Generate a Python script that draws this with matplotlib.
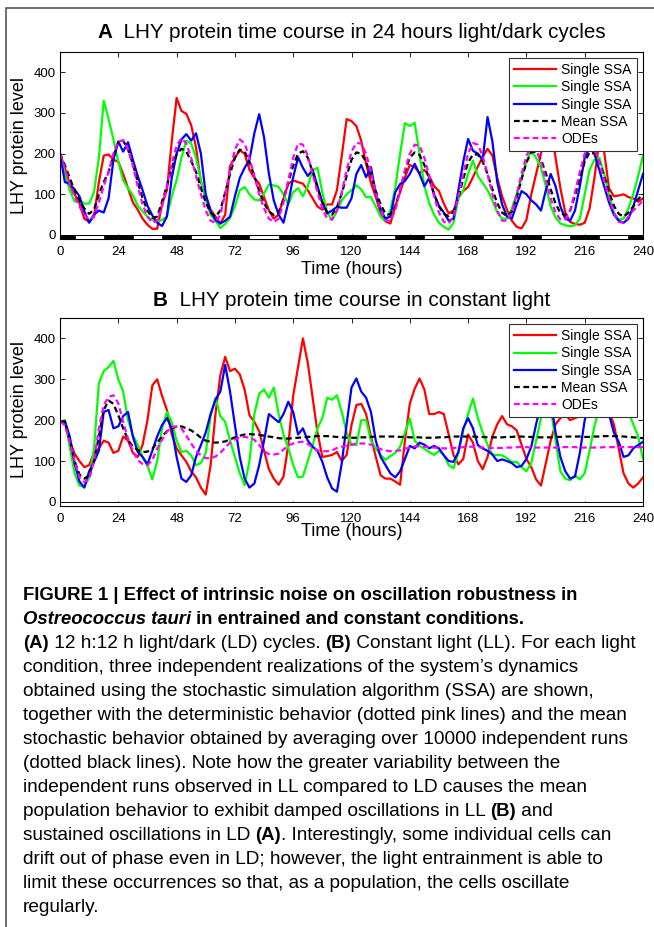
import matplotlib
matplotlib.use('Agg')
import matplotlib.pyplot as plt
from matplotlib.patches import Rectangle

# ---------------- data ----------------
hours = list(range(0, 241, 2))
xticks = list(range(0, 241, 24))
yticks = [0, 100, 200, 300, 400]
labels = ["Single SSA", "Single SSA", "Single SSA", "Mean SSA", "ODEs"]

dark_start = [0, 18, 42, 66, 90, 114, 138, 162, 186, 210, 234]
dark_end = [6, 30, 54, 78, 102, 126, 150, 174, 198, 222, 240]

A_red = [200, 165, 125, 100, 78, 40, 32, 45, 130, 195, 198, 185, 180, 150, 115, 80, 62, 40, 25, 15,
         15, 75, 110, 230, 337, 305, 298, 270, 215, 130, 95, 62, 45, 28, 50, 170, 190, 208, 200, 160,
         140, 126, 93, 60, 40, 50, 90, 126, 134, 130, 126, 110, 90, 70, 62, 75, 75, 110, 195, 285,
         280, 268, 232, 175, 128, 93, 53, 33, 28, 70, 105, 142, 172, 167, 152, 160, 145, 120, 108, 77,
         53, 60, 92, 108, 118, 142, 168, 192, 212, 195, 140, 95, 62, 35, 20, 16, 37, 100, 150, 200,
         255, 265, 190, 115, 55, 32, 27, 25, 30, 65, 140, 230, 205, 115, 95, 97, 100, 93, 90, 82, 90]
A_green = [200, 150, 110, 82, 85, 77, 77, 105, 190, 330, 285, 235, 180, 135, 115, 98, 72, 58, 45, 37,
           33, 37, 45, 95, 135, 190, 232, 225, 190, 135, 85, 50, 35, 17, 27, 42, 70, 110, 118, 100,
           87, 85, 102, 124, 122, 118, 100, 75, 105, 115, 95, 120, 160, 165, 105, 55, 37, 58, 85, 100,
           110, 122, 112, 93, 93, 70, 45, 33, 60, 115, 200, 275, 268, 276, 200, 120, 78, 50, 30, 20,
           13, 30, 90, 110, 150, 183, 145, 128, 110, 85, 55, 40, 40, 65, 100, 140, 180, 207, 190, 165,
           120, 70, 43, 28, 24, 21, 24, 40, 100, 160, 185, 190, 150, 100, 55, 38, 40, 65, 100, 145, 195]
A_blue = [200, 130, 126, 112, 95, 58, 30, 50, 60, 55, 90, 185, 230, 205, 228, 185, 145, 110, 72, 48,
          30, 22, 45, 140, 200, 235, 248, 232, 250, 200, 100, 58, 37, 28, 35, 45, 95, 140, 165, 185,
          250, 297, 240, 150, 85, 50, 30, 80, 142, 191, 165, 145, 160, 120, 80, 53, 60, 69, 67, 67,
          90, 150, 172, 142, 167, 102, 62, 40, 45, 105, 125, 133, 150, 175, 150, 120, 140, 100, 72, 55,
          35, 40, 110, 180, 236, 207, 200, 185, 290, 230, 130, 75, 45, 40, 75, 108, 100, 85, 75, 60,
          110, 150, 120, 70, 40, 35, 60, 120, 190, 215, 200, 160, 120, 80, 50, 35, 30, 40, 70, 110, 150]
A_mean = [200, 172, 140, 110, 85, 65, 52, 62, 100, 130, 155, 195, 228, 232, 210, 175, 130, 90, 60, 42,
          45, 82, 120, 165, 198, 212, 205, 182, 155, 115, 80, 55, 45, 60, 105, 150, 190, 210, 205, 180,
          145, 108, 78, 58, 49, 55, 88, 130, 170, 200, 206, 190, 155, 115, 80, 55, 50, 68, 102, 145,
          185, 203, 200, 180, 147, 108, 75, 52, 50, 70, 110, 155, 190, 203, 197, 172, 138, 100, 70, 52,
          46, 57, 92, 138, 178, 198, 198, 180, 150, 112, 78, 55, 46, 57, 92, 137, 178, 203, 205, 186,
          152, 112, 77, 54, 48, 60, 96, 140, 180, 203, 200, 180, 145, 106, 72, 52, 45, 55, 70, 88, 100]
A_ode = [200, 165, 125, 95, 70, 50, 38, 45, 80, 120, 155, 200, 230, 233, 210, 170, 120, 75, 45, 30,
         35, 70, 120, 175, 220, 238, 225, 190, 145, 100, 60, 35, 30, 50, 100, 160, 210, 235, 225, 190,
         145, 100, 65, 40, 32, 40, 80, 135, 190, 225, 222, 195, 150, 105, 65, 40, 38, 60, 105, 160,
         205, 226, 225, 200, 155, 105, 60, 35, 35, 60, 110, 160, 200, 222, 220, 190, 145, 95, 55, 32,
         28, 45, 95, 150, 200, 226, 222, 195, 150, 100, 60, 35, 35, 55, 100, 150, 195, 215, 210, 180,
         135, 90, 55, 38, 38, 60, 105, 155, 200, 215, 210, 180, 135, 90, 55, 32, 30, 45, 60, 72, 85]

B_red = [196, 195, 150, 118, 100, 85, 90, 120, 131, 150, 145, 120, 125, 160, 150, 120, 110, 140, 200, 285,
         300, 260, 225, 165, 131, 114, 98, 75, 60, 35, 18, 90, 215, 310, 355, 320, 326, 312, 275, 212,
         196, 173, 125, 80, 57, 42, 62, 140, 260, 330, 400, 340, 255, 170, 110, 112, 115, 122, 100, 115,
         188, 237, 240, 215, 160, 110, 65, 57, 57, 50, 42, 150, 240, 277, 302, 275, 215, 215, 220, 215,
         165, 115, 92, 105, 165, 145, 100, 80, 110, 160, 190, 210, 190, 185, 175, 140, 105, 85, 55, 40,
         95, 150, 190, 205, 215, 200, 205, 210, 215, 240, 250, 260, 240, 220, 190, 130, 70, 45, 35, 45, 60]
B_green = [196, 200, 135, 70, 40, 37, 60, 130, 290, 320, 330, 345, 300, 270, 200, 163, 140, 110, 88, 55,
           100, 180, 220, 196, 150, 122, 125, 114, 90, 95, 120, 210, 255, 210, 196, 150, 110, 70, 41, 100,
           215, 265, 275, 255, 280, 215, 165, 131, 90, 60, 62, 100, 139, 180, 205, 255, 250, 261, 220, 170,
           140, 139, 200, 200, 150, 131, 115, 103, 112, 120, 135, 170, 204, 150, 137, 130, 122, 115, 125, 115,
           90, 82, 120, 175, 215, 253, 205, 170, 140, 115, 115, 114, 107, 98, 98, 85, 75, 95, 150, 205,
           240, 230, 150, 75, 57, 53, 65, 55, 70, 125, 185, 230, 250, 260, 250, 240, 230, 220, 190, 160, 105]
B_blue = [196, 198, 160, 95, 50, 35, 75, 98, 125, 220, 225, 180, 185, 210, 220, 160, 122, 110, 92, 125,
          160, 188, 205, 180, 110, 57, 49, 65, 110, 139, 170, 215, 250, 270, 335, 270, 188, 110, 57, 35,
          45, 90, 150, 215, 205, 195, 215, 245, 220, 165, 180, 150, 135, 125, 98, 60, 33, 25, 95, 190,
          280, 302, 270, 255, 220, 150, 110, 90, 70, 60, 75, 105, 137, 131, 145, 140, 131, 137, 131, 114,
          100, 98, 122, 180, 205, 180, 139, 131, 125, 116, 100, 104, 100, 95, 85, 88, 105, 135, 190, 240,
          270, 250, 170, 110, 75, 57, 62, 120, 200, 240, 260, 270, 250, 215, 170, 147, 110, 114, 131, 139, 147]
B_mean = [196, 196, 150, 100, 67, 57, 65, 100, 160, 225, 248, 240, 212, 180, 152, 135, 127, 122, 123, 130,
          145, 160, 173, 180, 184, 185, 180, 175, 167, 157, 150, 147, 145, 146, 148, 153, 158, 162, 165, 166,
          165, 164, 162, 160, 158, 156, 155, 155, 156, 157, 158, 159, 160, 161, 161, 161, 160, 159, 158, 157,
          157, 157, 158, 158, 159, 160, 160, 160, 160, 160, 159, 159, 158, 158, 158, 157, 157, 157, 158, 158,
          159, 160, 160, 160, 160, 160, 159, 159, 158, 158, 158, 158, 159, 159, 160, 160, 159, 159, 158, 158,
          158, 158, 159, 159, 160, 160, 160, 160, 159, 159, 160, 160, 161, 161, 161, 161, 160, 159, 158, 157, 156]
B_ode = [196, 188, 147, 100, 60, 49, 55, 100, 180, 237, 257, 261, 241, 196, 155, 125, 102, 93, 90, 102,
         130, 152, 172, 183, 185, 180, 162, 143, 125, 114, 107, 107, 111, 120, 133, 145, 153, 158, 159, 157,
         152, 139, 124, 117, 116, 118, 128, 138, 143, 146, 147, 142, 133, 126, 124, 124, 126, 132, 135, 138,
         140, 143, 143, 143, 140, 135, 129, 126, 124, 125, 126, 130, 133, 136, 136, 135, 134, 133, 132, 131,
         131, 132, 133, 134, 135, 135, 134, 133, 132, 132, 132, 132, 133, 133, 134, 134, 134, 133, 133, 133,
         133, 133, 133, 134, 134, 134, 134, 133, 133, 133, 133, 133, 134, 134, 134, 134, 134, 134, 134, 134, 134]

# ---------------- figure ----------------
W, H = 654, 927
plt.rcParams['font.family'] = ['Liberation Sans', 'DejaVu Sans']
fig = plt.figure(figsize=(W / 100, H / 100), dpi=100)
fig.patch.set_facecolor('white')

colors = ['#ff0000', '#00ff00', '#0000ff', '#000000', '#ff00ff']
styles = ['-', '-', '-', '--', '--']

axA = fig.add_axes([60 / W, 1 - 239 / H, 583 / W, 187 / H])
axB = fig.add_axes([60 / W, 1 - 506 / H, 583 / W, 188 / H])


def setup(ax, series, dark):
    ax.set_xlim(0, 240)
    ax.set_ylim(-10, 450)
    ax.set_xticks(xticks)
    ax.set_yticks(yticks)
    ax.tick_params(direction='in', length=3.5, width=0.6, top=True, right=True,
                   labelsize=9.5, colors='black')
    ax.tick_params(axis='x', pad=5)
    ax.tick_params(axis='y', pad=3)
    for s in ax.spines.values():
        s.set_linewidth(0.8)
    handles = []
    for vals, c, ls, lab in zip(series, colors, styles, labels):
        if ls == '--':
            ln, = ax.plot(hours, vals, color=c, lw=1.6, dashes=(2.6, 1.6), label=lab, zorder=2)
        else:
            ln, = ax.plot(hours, vals, color=c, lw=1.6, label=lab, zorder=2)
        handles.append(ln)
    ax.add_patch(Rectangle((0, -10), 240, 10, facecolor='white', edgecolor='black',
                           lw=0.7, zorder=3, clip_on=False))
    if dark:
        for s0, s1 in zip(dark_start, dark_end):
            ax.add_patch(Rectangle((s0, -10), s1 - s0, 10, facecolor='black',
                                   edgecolor='black', lw=0.5, zorder=3))
    leg = ax.legend(handles=handles, loc='upper right',
                    bbox_to_anchor=(1 - 6 / 583, 1 - 6 / 187), borderaxespad=0,
                    fontsize=10, frameon=True, fancybox=False, framealpha=1,
                    edgecolor='#333333', handlelength=3.0, handletextpad=0.43,
                    labelspacing=0.23, borderpad=0.37)
    leg.get_frame().set_linewidth(0.8)
    leg.set_zorder(5)


setup(axA, [A_red, A_green, A_blue, A_mean, A_ode], True)
setup(axB, [B_red, B_green, B_blue, B_mean, B_ode], False)

fig.canvas.draw()
renderer = fig.canvas.get_renderer()


def runs_text(runs, x_px, y_px, ha='left', va='baseline'):
    texts = []
    widths = []
    for txt, weight, style, size in runs:
        t = fig.text(0, 1 - y_px / H, txt, fontsize=size, fontweight=weight,
                     fontstyle=style, va=va, ha='left')
        texts.append(t)
        widths.append(t.get_window_extent(renderer).width)
    total = sum(widths)
    x = x_px - total / 2 if ha == 'center' else x_px
    for t, w in zip(texts, widths):
        t.set_x(x / W)
        x += w


cx = (60 + 643) / 2
TS = 14.9
# titles
runs_text([("A", 'bold', 'normal', TS), ("  LHY protein time course in 24 hours light/dark cycles", 'normal', 'normal', TS)],
          cx, 33, ha='center', va='center')
runs_text([("B", 'bold', 'normal', TS), ("  LHY protein time course in constant light", 'normal', 'normal', TS)],
          cx, 301, ha='center', va='center')
# axis labels
fig.text(cx / W, 1 - 269 / H, "Time (hours)", fontsize=13, ha='center', va='center')
fig.text(cx / W, 1 - 532 / H, "Time (hours)", fontsize=13, ha='center', va='center')
fig.text(20 / W, 1 - 145 / H, "LHY protein level", fontsize=13, rotation=90, ha='center', va='center')
fig.text(20 / W, 1 - 410 / H, "LHY protein level", fontsize=13, rotation=90, ha='center', va='center')

# border
fig.add_artist(Rectangle((6 / W, -0.1), 2, 1.1 - 7.5 / H, transform=fig.transFigure,
                         fill=False, edgecolor='#555555', lw=1.2))

# caption
RS, BS = 13.7, 13.3
b = lambda s: (s, 'bold', 'normal', BS)
bi = lambda s: (s, 'bold', 'italic', BS)
n = lambda s: (s, 'normal', 'normal', RS)
cap = [
    [b("FIGURE 1 | Effect of intrinsic noise on oscillation robustness in")],
    [bi("Ostreococcus tauri"), b(" in entrained and constant conditions.")],
    [b("(A)"), n(" 12 h:12 h light/dark (LD) cycles. "), b("(B)"),
     n(" Constant light (LL). For each light")],
    [n("condition, three independent realizations of the system\u2019s dynamics")],
    [n("obtained using the stochastic simulation algorithm (SSA) are shown,")],
    [n("together with the deterministic behavior (dotted pink lines) and the mean")],
    [n("stochastic behavior obtained by averaging over 10000 independent runs")],
    [n("(dotted black lines). Note how the greater variability between the")],
    [n("independent runs observed in LL compared to LD causes the mean")],
    [n("population behavior to exhibit damped oscillations in LL "), b("(B)"), n(" and")],
    [n("sustained oscillations in LD "), b("(A)"),
     n(". Interestingly, some individual cells can")],
    [n("drift out of phase even in LD; however, the light entrainment is able to")],
    [n("limit these occurrences so that, as a population, the cells oscillate")],
    [n("regularly.")],
]
ys = [595, 619] + [643 + 24 * k for k in range(12)]
for runs, y in zip(cap, ys):
    runs_text(runs, 23, y + 5)

fig.savefig('out.png', dpi=100, facecolor='white')
